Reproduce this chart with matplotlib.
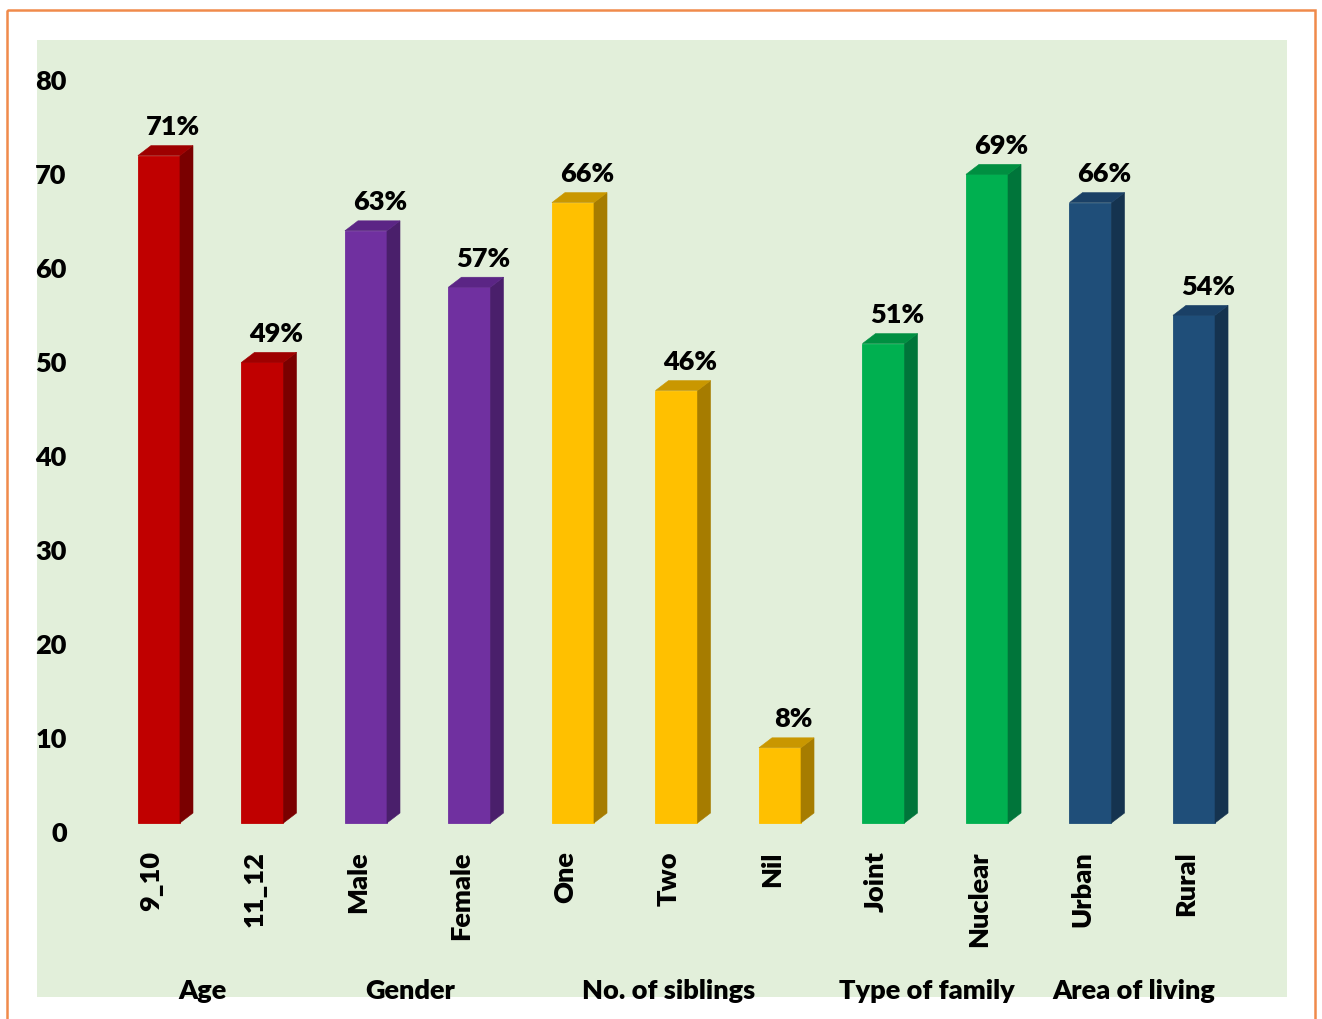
import matplotlib
matplotlib.use("Agg")
import matplotlib.pyplot as plt
from matplotlib.patches import Polygon, Rectangle
import matplotlib.transforms as mtransforms

plt.rcParams['font.family'] = ['Lato', 'DejaVu Sans']
FW = 800
plt.rcParams['font.weight'] = FW

categories = ["9_10", "11_12", "Male", "Female", "One", "Two", "Nil",
              "Joint", "Nuclear", "Urban", "Rural"]
values = [71, 49, 63, 57, 66, 46, 8, 51, 69, 66, 54]
labels = ["71%", "49%", "63%", "57%", "66%", "46%", "8%", "51%", "69%", "66%", "54%"]
groups = ["Age", "Gender", "No. of siblings", "Type of family", "Area of living"]
group_members = [[0, 1], [2, 3], [4, 5, 6], [7, 8], [9, 10]]
yticks = [0, 10, 20, 30, 40, 50, 60, 70, 80]

front_colors = ["#C00000", "#7030A0", "#FFC000", "#00B050", "#1F4E79"]
side_colors = ["#7A0000", "#4A1F6B", "#A67C00", "#00753A", "#15334F"]
top_colors = ["#9E0000", "#5B2585", "#C99700", "#008F41", "#1A4066"]

W, H = 1322, 1019
fig = plt.figure(figsize=(W / 100, H / 100), dpi=100)
fig.patch.set_facecolor("white")

# background axes for border and green plot area
bg = fig.add_axes([0, 0, 1, 1], zorder=-5)
bg.set_axis_off()
bg.set_xlim(0, W)
bg.set_ylim(H, 0)
bg.add_patch(Rectangle((7, 10), 1315 - 7, H + 20, facecolor="none",
                       edgecolor="#F08A4B", linewidth=1.8))
bg.add_patch(Rectangle((37, 40), 1287 - 37, 997 - 40, facecolor="#E2EFDA",
                       edgecolor="none"))

ax = fig.add_axes([75 / W, (H - 832) / H, (1280 - 75) / W, (832 - 80) / H], zorder=1)
ax.set_facecolor("none")
ax.set_xlim(-0.734, 10.908)
ax.set_ylim(0, 80)
for s in ax.spines.values():
    s.set_visible(False)

# 3D bar geometry (style)
left_off, right_off = -0.126, 0.28
dx, dy = 0.126, 1.06
base = 0.96

color_idx = {}
for g, mem in enumerate(group_members):
    for m in mem:
        color_idx[m] = g

for i, v in enumerate(values):
    g = color_idx[i]
    l, r = i + left_off, i + right_off
    b, t = base, base + v
    ax.add_patch(Polygon([(l, b), (r, b), (r, t), (l, t)], closed=True,
                         facecolor=front_colors[g], edgecolor=front_colors[g],
                         linewidth=0.6, clip_on=False, zorder=3))
    ax.add_patch(Polygon([(r, b), (r + dx, b + dy), (r + dx, t + dy), (r, t)], closed=True,
                         facecolor=side_colors[g], edgecolor=side_colors[g],
                         linewidth=0.4, clip_on=False, zorder=3))
    ax.add_patch(Polygon([(l, t), (l + dx, t + dy), (r + dx, t + dy), (r, t)], closed=True,
                         facecolor=top_colors[g], edgecolor=top_colors[g],
                         linewidth=0.4, clip_on=False, zorder=3))
    ax.text(i + 0.21, t + 1.75, labels[i], ha="center", va="bottom",
            fontsize=19.5, fontweight=FW, color="black", zorder=4)

ax.set_yticks(yticks)
ax.set_yticklabels([str(y) for y in yticks], fontsize=19.5, fontweight=FW)
ax.set_xticks(range(len(categories)))
ax.set_xticklabels(categories, rotation=90, fontsize=19.5, fontweight=FW)
ax.tick_params(axis="y", length=0, pad=6)
ax.tick_params(axis="x", length=0, pad=14)

trans = mtransforms.blended_transform_factory(ax.transData, fig.transFigure)
for name, mem in zip(groups, group_members):
    xc = sum(mem) / len(mem)
    ax.text(xc, (H - 991) / H, name, transform=trans, ha="center", va="center",
            fontsize=19.5, fontweight=FW, color="black")

fig.savefig("out.png", dpi=100)
